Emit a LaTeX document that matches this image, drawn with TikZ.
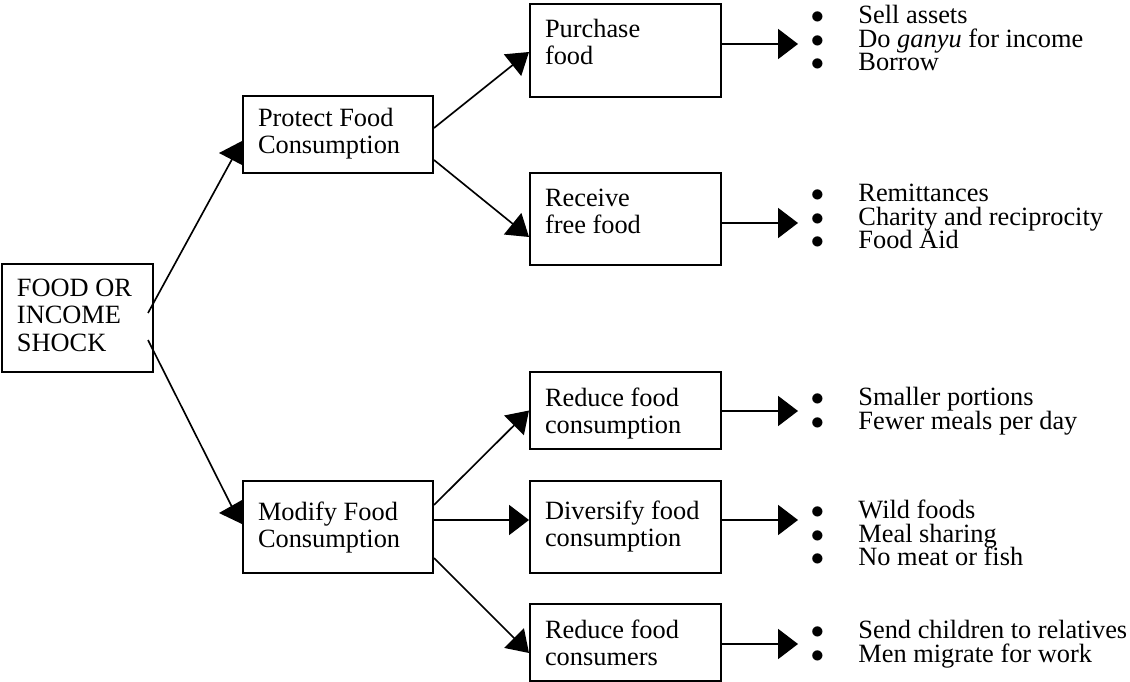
\documentclass[tikz,border=0pt]{standalone}
\usepackage{fontspec}
\setmainfont{Liberation Serif}
\usetikzlibrary{arrows.meta}

% one bulleted line, with a fixed indent before the item text
\newcommand\itm[1]{\hbox{\makebox[21.6pt][l]{$\bullet$}#1}}
% a stack of bulleted lines at a fixed line pitch
\newcommand\itemstack[1]{\vtop{\baselineskip=10.7pt\lineskiplimit=-20pt #1}}

\tikzset{
  box/.style={font=\fontsize{12}{12.5}\selectfont, draw, line width=0.9pt,
    inner xsep=6.83pt, inner ysep=0pt, align=flush left},
  wbox/.style={box, text width=73.26pt},
  lbox/.style={box, text width=72.8pt},
  sbox/.style={box, text width=55.06pt},
  conn/.style={line width=0.75pt},
  harr/.style={conn, -{Triangle[length=9.1pt,width=13.7pt]}},
  darr/.style={conn, -{Triangle[length=9.6pt,width=12.5pt]}},
  list/.style={font=\fontsize{12}{10.7}\selectfont, inner sep=0pt, anchor=base west},
}

\begin{document}
\begin{tikzpicture}[x=0.455pt, y=-0.455pt]
  \fill[white] (0,0) rectangle (1130,682);
  \useasboundingbox (0,0) rectangle (1130,682);

  % boxes (text set from the top of each box)
  \node[sbox, text height=14.79pt, text depth=34.35pt] (shock) at (77.5,318) {FOOD OR\\INCOME\\SHOCK};
  \node[lbox, text height=13.88pt, text depth=21.16pt] (protect) at (338,134.5) {Protect Food\\Consumption};
  \node[lbox, text height=17.97pt, text depth=23.89pt] (modify) at (338,527) {Modify Food\\Consumption};
  \node[wbox, text height=15.24pt, text depth=27.07pt] (purchase) at (625.5,50.5) {Purchase\\food};
  \node[wbox, text height=15.24pt, text depth=26.62pt] (receive) at (625.5,219) {Receive\\free food};
  \node[wbox, text height=15.70pt, text depth=19.34pt] (reducec) at (625.5,410.5) {Reduce food\\consumption};
  \node[wbox, text height=17.52pt, text depth=24.34pt] (diversify) at (625.5,527) {Diversify food\\consumption};
  \node[wbox, text height=15.70pt, text depth=19.34pt] (consumers) at (625.5,642.5) {Reduce food\\consumers};

  % from the shock to the two strategies
  \coordinate (s1) at ([shift={(-6,-5)}]shock.east);
  \coordinate (s2) at ([shift={(-6,22)}]shock.east);
  \coordinate (e1) at ([shift={(-9,23)}]protect.west);
  \coordinate (e2) at ([shift={(-10,-20)}]modify.west);
  \draw[conn] (s1) -- (e1);
  \draw[conn] (s2) -- (e2);
  \fill ([shift={(-23,18.5)}]protect.west) -- ([shift={(0,6.5)}]protect.west)
        -- ([shift={(0,30.5)}]protect.west) -- cycle;
  \fill ([shift={(-23,-14)}]modify.west) -- ([shift={(0,-27)}]modify.west)
        -- ([shift={(0,-3)}]modify.west) -- cycle;

  % from the strategies to the actions
  \draw[darr] ([shift={(0,-6.5)}]protect.east) -- ([shift={(0,1.5)}]purchase.west);
  \draw[darr] ([shift={(0,25.5)}]protect.east) -- ([shift={(0,18)}]receive.west);
  \draw[darr] ([shift={(0,-22)}]modify.east) -- (reducec.west);
  \draw[harr] ([shift={(0,-7)}]modify.east) -- ([shift={(0,-7)}]diversify.west);
  \draw[darr] ([shift={(0,31)}]modify.east) -- ([shift={(0,10.5)}]consumers.west);

  % from the actions to the lists
  \coordinate (t1) at (798,44);
  \coordinate (t2) at (798,223);
  \coordinate (t3) at (798,411);
  \coordinate (t4) at (798,520);
  \coordinate (t5) at (798,644);
  \draw[harr] (purchase.east |- t1) -- (t1);
  \draw[harr] (receive.east |- t2) -- (t2);
  \draw[harr] (reducec.east |- t3) -- (t3);
  \draw[harr] (diversify.east |- t4) -- (t4);
  \draw[harr] (consumers.east |- t5) -- (t5);

  % lists of coping actions
  \node[list] (l1) at (810.5,23.5) {\itemstack{\itm{Sell assets}\itm{Do \textit{ganyu} for income}\itm{Borrow}}};
  \node[list] (l2) at (810.5,201.5) {\itemstack{\itm{Remittances}\itm{Charity and reciprocity}\itm{Food Aid}}};
  \node[list] (l3) at (810.5,405.5) {\itemstack{\itm{Smaller portions}\itm{Fewer meals per day}}};
  \node[list] (l4) at (810.5,518.5) {\itemstack{\itm{Wild foods}\itm{Meal sharing}\itm{No meat or fish}}};
  \node[list] (l5) at (810.5,638.5) {\itemstack{\itm{Send children to relatives}\itm{Men migrate for work}}};
\end{tikzpicture}
\end{document}
